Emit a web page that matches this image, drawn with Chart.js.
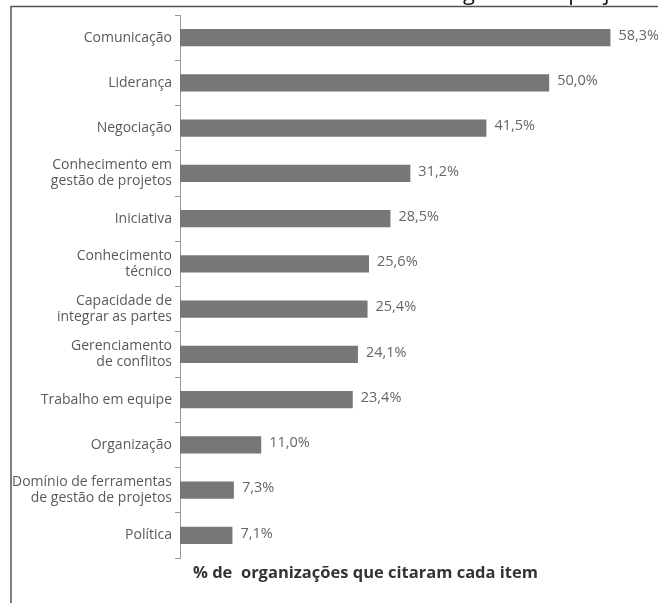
<!DOCTYPE html>
<html>
<head>
<meta charset="utf-8">
<script src="https://cdn.jsdelivr.net/npm/chart.js@4.4.1/dist/chart.umd.min.js"></script>
<style>
  body { margin: 0; background: #fff; }
  #wrap { position: relative; width: 658px; height: 603px; }
</style>
</head>
<body>
<div id="wrap"><canvas id="myChart" width="658" height="603"></canvas></div>
<script>
// categories (multi-line labels as arrays)
const categories = [
  'Comunicação',
  'Liderança',
  'Negociação',
  ['Conhecimento em', 'gestão de projetos'],
  'Iniciativa',
  ['Conhecimento', 'técnico'],
  ['Capacidade de', 'integrar as partes'],
  ['Gerenciamento', 'de conflitos'],
  'Trabalho em equipe',
  'Organização',
  ['Domínio de ferramentas', 'de gestão de projetos'],
  'Política'
];
const percentages = [58.3, 50.0, 41.5, 31.2, 28.5, 25.6, 25.4, 24.1, 23.4, 11.0, 7.3, 7.1];
const axisTitle = '% de  organizações que citaram cada item';
const clippedTitle = 'gestão de projetos';

const fontFamily = '"Open Sans", "Noto Sans", sans-serif';

// frame lines + the cut-off heading at the very top
const framePlugin = {
  id: 'frame',
  beforeDraw(chart) {
    const ctx = chart.ctx;
    ctx.save();
    ctx.fillStyle = '#ffffff';
    ctx.fillRect(0, 0, chart.width, chart.height);
    ctx.strokeStyle = '#555';
    ctx.lineWidth = 1.5;
    ctx.beginPath();
    ctx.moveTo(11, chart.height);
    ctx.lineTo(11, 6.5);
    ctx.lineTo(chart.width, 6.5);
    ctx.stroke();
    ctx.fillStyle = '#111';
    ctx.font = '22px ' + fontFamily;
    ctx.textBaseline = 'alphabetic';
    ctx.fillText(clippedTitle, 463, 0);
    ctx.restore();
  }
};

// value labels next to the bars and the bottom caption
const valueLabels = {
  id: 'valueLabels',
  afterDatasetsDraw(chart) {
    const ctx = chart.ctx;
    const meta = chart.getDatasetMeta(0);
    ctx.save();
    ctx.font = '14.5px ' + fontFamily;
    ctx.fillStyle = '#666';
    ctx.textBaseline = 'middle';
    ctx.textAlign = 'left';
    meta.data.forEach((bar, i) => {
      const txt = percentages[i].toFixed(1).replace('.', ',') + '%';
      ctx.fillText(txt, bar.x + 8, bar.y - 2);
    });
    ctx.font = 'bold 16.5px ' + fontFamily;
    ctx.fillStyle = '#333';
    ctx.fillText(axisTitle, 193, 573);
    ctx.restore();
  }
};

new Chart(document.getElementById('myChart'), {
  type: 'bar',
  data: {
    labels: categories,
    datasets: [{
      data: percentages,
      backgroundColor: '#777777',
      borderWidth: 0,
      categoryPercentage: 1.0,
      barPercentage: 0.38
    }]
  },
  options: {
    indexAxis: 'y',
    responsive: false,
    animation: false,
    layout: { padding: { top: 15, bottom: 45, right: 35, left: 0 } },
    plugins: {
      legend: { display: false },
      tooltip: { enabled: false }
    },
    scales: {
      x: {
        display: false,
        min: 0,
        max: 60
      },
      y: {
        afterFit(scale) { scale.width = 180; },
        grid: {
          offset: true,
          drawOnChartArea: false,
          drawTicks: true,
          tickLength: 5,
          color: '#999'
        },
        border: { display: true, color: '#999', width: 1 },
        ticks: {
          padding: 3,
          color: '#5a5a5a',
          font: { family: fontFamily, size: 14, lineHeight: 1.15 }
        }
      }
    }
  },
  plugins: [framePlugin, valueLabels]
});
</script>
</body>
</html>
